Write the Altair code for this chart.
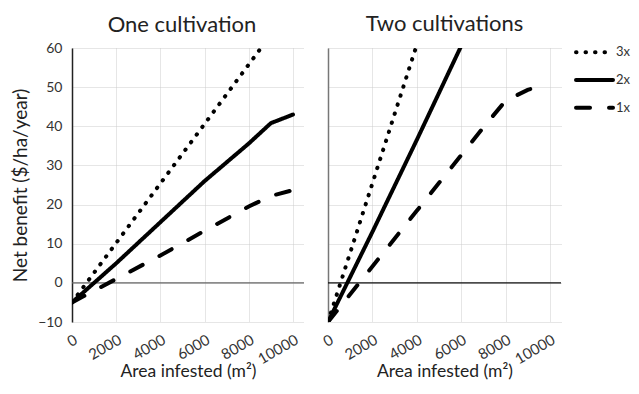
import altair as alt
import pandas as pd

# ---- data ----
series_order = ["3x", "2x", "1x"]

x_one_3x = [0, 2000, 4000, 6000, 8000, 9000]
y_one_3x = [-5, 10.2, 25.4, 40.6, 55.8, 63.4]
x_one_2x = [0, 2000, 4000, 6000, 8000, 9000, 10000]
y_one_2x = [-5, 5, 15.5, 26, 35.6, 40.8, 43]
x_one_1x = [0, 2000, 4000, 6000, 8000, 9000, 10000]
y_one_1x = [-5, 1, 7, 13.3, 19.5, 22.2, 23.7]

x_two_3x = [0, 2000, 4000]
y_two_3x = [-10, 25.4, 60.8]
x_two_2x = [0, 2000, 4000, 6000]
y_two_2x = [-10, 13, 36.5, 60.5]
x_two_1x = [0, 2000, 4000, 6000, 7000, 8000, 9000, 9600]
y_two_1x = [-10, 4.2, 18.4, 32.6, 39.7, 46.5, 49.3, 50.3]

x_ticks = [0, 2000, 4000, 6000, 8000, 10000]
y_ticks = [-10, 0, 10, 20, 30, 40, 50, 60]


def frame(parts):
    rows = []
    for name, xs, ys in parts:
        for xv, yv in zip(xs, ys):
            rows.append({"series": name, "area": xv, "benefit": yv})
    return pd.DataFrame(rows)


df_one = frame([("3x", x_one_3x, y_one_3x), ("2x", x_one_2x, y_one_2x), ("1x", x_one_1x, y_one_1x)])
df_two = frame([("3x", x_two_3x, y_two_3x), ("2x", x_two_2x, y_two_2x), ("1x", x_two_1x, y_two_1x)])
zero_df = pd.DataFrame({"benefit": [0]})

# legend sample lines (span 0..1 of the legend's own x scale)
legend_df = pd.DataFrame([{"series": s, "lx": v} for s in series_order for v in (0, 1)])
legend_lbl = pd.DataFrame({"series": series_order, "lx": [1] * 3})

FONT = "Lato"
H = 274

dash_scale = alt.Scale(domain=series_order, range=[[0.5, 9], [1, 0], [14, 19]])
grid_kw = dict(grid=True, gridColor="#cccccc", gridDash=[1, 1], gridWidth=1)
title_kw = dict(fontSize=22, fontWeight="normal", color="#222", font=FONT, offset=4)


def panel(df, title, left, zero_color, domain_color, width, title_dx, title_dy):
    x_enc = alt.X(
        "area:Q",
        scale=alt.Scale(domain=[0, 10500], nice=False),
        axis=alt.Axis(values=x_ticks, format="d", labelAngle=-30, ticks=False, domain=False,
                      title="Area infested (m²)", titleFontSize=17.5, titleFontWeight="normal",
                      titleColor="#222", labelFontSize=15, labelColor="#333", labelPadding=10,
                      labelOverlap=False, titlePadding=-4, **grid_kw),
    )
    if left:
        y_axis = alt.Axis(values=y_ticks, ticks=False, domainColor=domain_color, domainWidth=1.5,
                          title="Net benefit ($/ha/year)", titleFontSize=19, titleFontWeight="normal",
                          titleColor="#222", labelFontSize=14, labelColor="#333", labelPadding=10,
                          labelOverlap=False, titlePadding=7, **grid_kw)
    else:
        y_axis = alt.Axis(values=y_ticks, ticks=False, labels=False, title=None,
                          domainColor=domain_color, domainWidth=1.5, **grid_kw)
    y_enc = alt.Y("benefit:Q", scale=alt.Scale(domain=[-10, 60], nice=False), axis=y_axis)

    zero = alt.Chart(zero_df).mark_rule(color=zero_color, strokeWidth=1.2).encode(y=y_enc)
    lines = alt.Chart(df).mark_line(color="black", strokeWidth=4, strokeCap="round", clip=True).encode(
        x=x_enc,
        y=y_enc,
        strokeDash=alt.StrokeDash("series:N", scale=dash_scale, legend=None),
        detail="series:N",
    )
    return alt.layer(zero, lines).properties(
        width=width, height=H, title=alt.Title(title, dx=title_dx, dy=title_dy, **title_kw))


left = panel(df_one, "One cultivation", True, "#666", "#222", 232, -6, 0)
right = panel(df_two, "Two cultivations", False, "#111", "#777", 233, 0, -8)

leg_x = alt.X("lx:Q", scale=alt.Scale(domain=[0.243, 1], nice=False, zero=False), axis=None)
leg_y = alt.Y("series:N", sort=series_order, scale=alt.Scale(type="point", padding=0.15), axis=None)
leg_lines = alt.Chart(legend_df).mark_line(color="black", strokeWidth=4, strokeCap="round").encode(
    x=leg_x, y=leg_y,
    strokeDash=alt.StrokeDash("series:N", scale=dash_scale, legend=None),
    detail="series:N",
)
leg_text = alt.Chart(legend_lbl).mark_text(align="left", baseline="middle", dx=3, fontSize=13,
                                           color="#333", font=FONT).encode(
    x=leg_x, y=leg_y, text="series:N")
legend = alt.layer(leg_lines, leg_text).properties(width=28, height=64,
                                                   title=alt.Title(" ", **title_kw))

chart = alt.hconcat(
    left, right, legend,
    spacing=24,
    bounds="flush",
).properties(
    padding={"left": 3, "top": 5, "right": 0, "bottom": 0}
).configure(font=FONT).configure_view(stroke=None)

chart.save("out.html", embed_options={"renderer": "svg", "actions": False})
